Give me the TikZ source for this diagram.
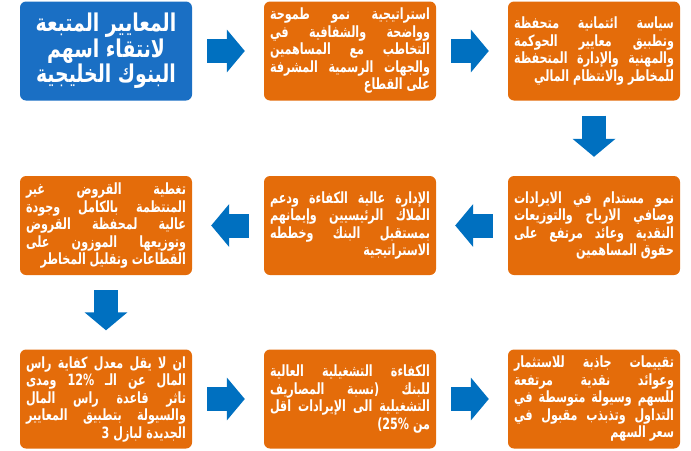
\documentclass[tikz,border=0pt]{standalone}
\usepackage{fontspec}
\usepackage{tikz}
\usetikzlibrary{arrows.meta,positioning}
\TeXXeTstate=1
\newfontfamily\arabicfont[Script=Arabic,FakeStretch=0.72]{DejaVu Sans}
\newfontfamily\titlefont[Script=Arabic,FakeStretch=0.77]{DejaVu Sans}
\definecolor{boxorange}{RGB}{228,108,10}
\definecolor{titleblue}{RGB}{26,111,196}
\definecolor{arrowblue}{RGB}{0,112,192}
\hbadness=10000
\newlength{\linew}
\setlength{\linew}{160pt}
% one justified line, and the last (right aligned) line of a card
\newcommand{\jl}[1]{\hbox to\linew{\beginR #1\endR}}
\newcommand{\lastl}[1]{\hbox to\linew{\hfill\beginR #1\endR}}

\begin{document}
\begin{tikzpicture}[x=1pt,y=-1pt,
  card/.style={fill=boxorange,rounded corners=6pt,minimum width=172pt,minimum height=99pt,inner sep=0pt,text=white,align=center,font=\fontsize{15.5}{17.5}\arabicfont\bfseries},
  titlecard/.style={card,fill=titleblue,font=\fontsize{24.5}{25.5}\titlefont\bfseries},
  flow/.style={arrowblue,line width=24pt,-{Triangle[width=42pt,length=18pt]},shorten <=15pt,shorten >=19pt}]
  \useasboundingbox (0,0) rectangle (691,450);
  \node[titlecard] (title) at (106,51) {\beginR المعايير المتبعة\endR\\\beginR لانتقاء اسهم\endR\\\beginR البنوك الخليجية\endR};
  \foreach \nm/\x/\y/\txt in {
    strategy/350/51/{\jl{استراتيجية نمو طموحة}\\\jl{وواضحة والشفافية في}\\\jl{التخاطب مع المساهمين}\\\jl{والجهات الرسمية المشرفة}\\\lastl{على القطاع}},
    credit/594/51/{\jl{سياسة ائتمانية متحفظة}\\\jl{وتطبيق معايير الحوكمة}\\\jl{والمهنية والإدارة المتحفظة}\\\lastl{للمخاطر والانتظام المالي}},
    growth/594/225.5/{\jl{نمو مستدام في الايرادات}\\\jl{وصافي الارباح والتوزيعات}\\\jl{النقدية وعائد مرتفع على}\\\lastl{حقوق المساهمين}},
    management/350/225.5/{\jl{الإدارة عالية الكفاءة ودعم}\\\jl{الملاك الرئيسيين وإيمانهم}\\\jl{بمستقبل البنك وخططه}\\\lastl{الاستراتيجية}},
    loans/106/225.5/{\jl{تغطية القروض غير}\\\jl{المنتظمة بالكامل وجودة}\\\jl{عالية لمحفظة القروض}\\\jl{وتوزيعها الموزون على}\\\lastl{القطاعات وتقليل المخاطر}},
    capital/106/399/{\jl{ان لا يقل معدل كفاية راس}\\\jl{المال عن الـ 12\% ومدى}\\\jl{تاثر قاعدة راس المال}\\\jl{والسيولة بتطبيق المعايير}\\\lastl{الجديدة لبازل 3}},
    efficiency/350/399/{\jl{الكفاءة التشغيلية العالية}\\\jl{للبنك \mbox{(}نسبة المصاريف}\\\jl{التشغيلية الى الإيرادات اقل}\\\lastl{من \mbox{25\%}\mbox{)}}},
    valuation/594/399/{\jl{تقييمات جاذبة للاستثمار}\\\jl{وعوائد نقدية مرتفعة}\\\jl{للسهم وسيولة متوسطة في}\\\jl{التداول وتذبذب مقبول في}\\\lastl{سعر السهم}}}{
    \node[card] (\nm) at (\x,\y) {\txt};
  }
  \foreach \a/\b in {title/strategy,strategy/credit,credit/growth,growth/management,management/loans,loans/capital,capital/efficiency,efficiency/valuation}
    \draw[flow] (\a) -- (\b);
\end{tikzpicture}
\end{document}
